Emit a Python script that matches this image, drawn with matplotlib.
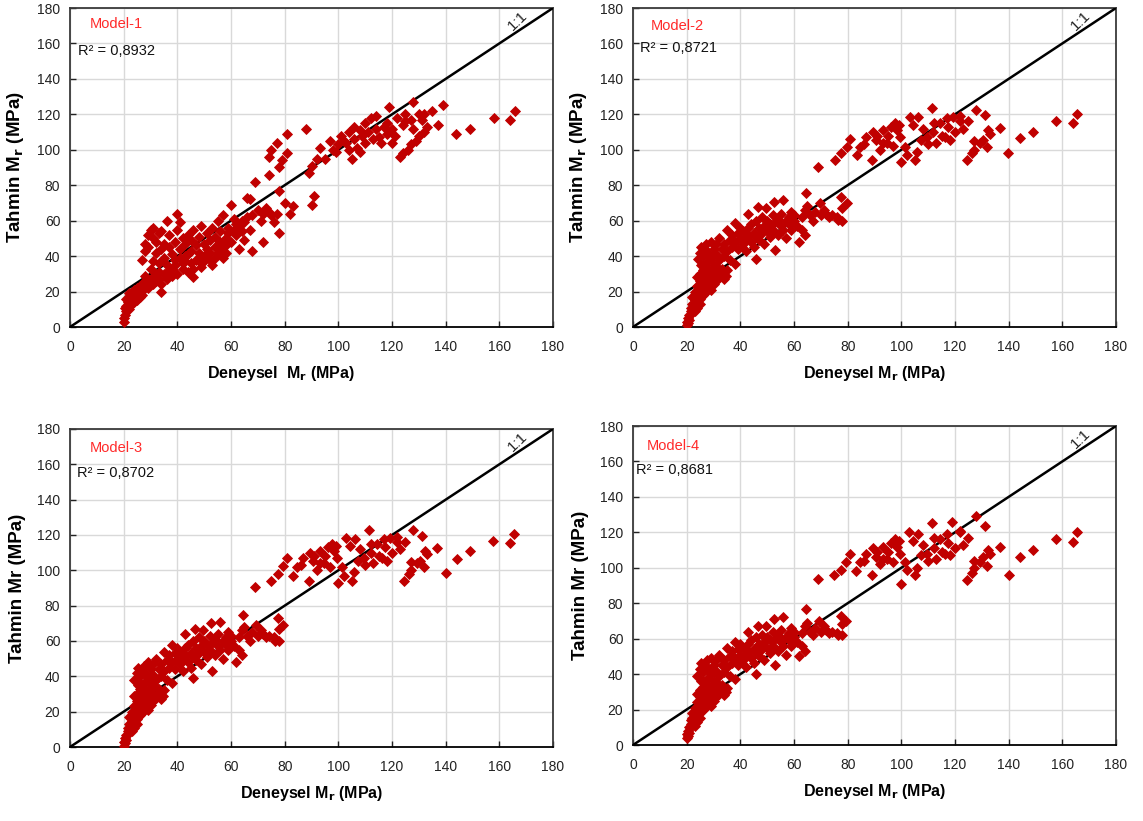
import matplotlib
matplotlib.use("Agg")
import matplotlib.pyplot as plt

plt.rcParams['font.family'] = ['Liberation Sans', 'DejaVu Sans']

# ---------------- data ----------------
models = ["Model-1", "Model-2", "Model-3", "Model-4"]
r2_texts = ["R² = 0,8932", "R² = 0,8721", "R² = 0,8702", "R² = 0,8681"]
ylabels = ["Tahmin M$_\\mathbf{r}$ (MPa)", "Tahmin M$_\\mathbf{r}$ (MPa)",
           "Tahmin Mr (MPa)", "Tahmin Mr (MPa)"]
xlabels = ["Deneysel  M$_\\mathbf{r}$ (MPa)", "Deneysel M$_\\mathbf{r}$ (MPa)",
           "Deneysel M$_\\mathbf{r}$ (MPa)", "Deneysel M$_\\mathbf{r}$ (MPa)"]
ticks = [0, 20, 40, 60, 80, 100, 120, 140, 160, 180]

pts1 = [
    (20,3),(20,5),(20.5,7),(21,9),(20.5,11),(21,12),(21.5,14),(22,10),(22,15),(22.5,17),
    (23,13),(23,18),(23.5,16),(24,19),(24,21),(25,18),(25,22),(26,20),(26,23),(27,21),
    (27,24),(28,22),(28,26),(29,25),(30,27),(24,14),(22,19),(21,16),(26,17),(29,22),
    (31,28),(30,24),(27,18),(28,29),(32,30),(33,27),(31,24),(23,20),(25,15),
    (27,38),(28,43),(28,47),(29,52),(29,45),(30,55),(31,56),(31,50),(32,48),(32,42),
    (33,36),(33,53),(34,54),(34,44),(35,39),(35,47),(36,60),(36,35),(37,45),(37,52),
    (38,41),(38,33),(39,48),(39,38),(40,64),(40,55),(41,59),(41,44),(42,36),(42,50),
    (43,47),(43,40),(44,52),(44,31),(45,43),(45,49),(46,28),(46,55),(47,38),(47,46),
    (48,42),(48,51),(49,34),(49,57),(50,47),(50,40),(51,44),(51,53),(52,49),(52,38),
    (53,56),(53,35),(54,45),(54,51),(55,60),(55,42),(56,48),(56,54),(57,39),(57,63),
    (58,50),(58,46),(59,56),(59,53),(60,48),(60,69),(61,55),(61,61),(62,52),(62,58),
    (63,57),(63,44),(64,60),(64,54),(65,59),(65,49),(66,73),(66,62),(67,72),(67,55),
    (68,43),(68,63),(69,82),(70,66),(71,60),(72,48),(72,64),(73,67),(74,65),(75,63),
    (76,59),(77,64),(78,53),(78,77),
    (30,33),(31,37),(32,26),(33,31),(34,20),(34,24),(35,30),(36,27),(37,32),(38,29),
    (39,35),(40,30),(41,39),(42,33),(43,37),(44,41),(45,36),(46,33),(48,37),(50,37),
    (52,42),(54,39),(56,44),(58,42),
    (74,86),(74,96),(75,100),(77,104),(78,90),(79,94),(81,98),(81,109),(80,70),(82,64),
    (83,68),(88,112),(89,87),(90,69),(90,91),(91,74),(92,95),(93,101),(95,95),(97,105),
    (98,100),(99,99),
    (100,103),(101,108),(102,105),(103,104),(104,110),(105,95),(106,113),(106,106),
    (107,101),(108,99),(109,108),(110,104),(110,115),(111,110),(112,118),(113,106),
    (114,119),(114,112),(115,107),(116,104),(117,113),(118,115),(119,124),(120,112),
    (121,108),(122,118),(123,96),(124,114),(125,116),(126,100),(127,117),(128,127),
    (128,112),(129,105),(130,120),(131,117),(132,110),(133,113),(135,122),(137,114),
    (139,125),(144,109),(149,112),(158,118),(164,117),(166,122),
    (124,98),(127,103),(130,108),(132,120),(125,120),(120,104),(118,109),(108,111),(104,100),
]

pts2 = [
    (20,1),(20,3),(20.5,5),(20.5,2),(21,7),(21,4),(21.5,9),(21.5,11),(22,13),(22,8),
    (22.5,10),(23,15),(23,12),(23.5,14),(24,17),(24,13),(24.5,19),(25,16),(25,20),(25.5,22),
    (26,18),(26,24),(26.5,21),(27,23),(27,19),(27.5,26),(28,22),(28,25),(29,21),(29,27),
    (30,24),(30,28),(31,26),(31,30),(32,28),(33,31),(34,27),(34.5,29),(35,32),(22,17),
    (23,20),(24,23),(25,26),(26,28),(27,30),(28,31),(23,9),(24,11),(25,13),
    (25,30),(26,32),(27,34),(28,33),(29,31),(30,33),(31,34),(32,33),(27,28),(29,30),
    (24,28),(26,35),
    (24.2,38.6),(24.9,42),(25.5,45),(25.5,35),(26,40),(27,44),(27.3,46.7),(28,37),(28,42),
    (29,48),(29,39),(30,44),(30,35),(31,41),(31,47),(32,50),(32,38),(33,44),(33,33),
    (34,47),(34,40),(35,54.7),(35,43),(36,49),(36,38),(37,52),(37,45),(38,58.8),(38,35.8),
    (38,48),(39,53),(39,44),(40,50),(40,56),(41,47),(41,54),(42,50),(42,43),(43,64),
    (43,56),(43,52),(44,48),(44,58),(45,53),(45,45),(46,60),(46,38.6),(46,51),(46.6,67.5),
    (47,56),(47,49),(48,62),(48,53),(49,57),(49,47),(49.7,67),(50,60),(50,54),(51,51),
    (51,58),(52,63),(52,55),(52.5,70.7),(53,43.3),(53,59),(54,52),(54,61),(55,57),(55,64),
    (56,71.6),(56,55),(57,60),(57,50),(58,62),(58,58),(59,65),(59,55),(60,60),(60,63),
    (61,57),(62,48),(62.8,54.7),(63,62),(64,51.8),(64,66),(64.6,75.8),(65,68),(66,63),
    (67,60),(68,65),(69.6,69.7),(70,63),(71,66),(72,64),(73,62),(74,63),(76.5,60.3),
    (77.7,73.5),(78,60),(79.6,69.7),(78,67),(76,62),
    (69,90.5),(75.2,94),(77.7,98),(79.6,101.8),(81,106),(83.3,97),(84.5,101.8),(87,107.4),
    (88.9,94.2),(89.5,110),(90.7,105.5),(92,100),(93.2,111),(94.5,103.7),(95,108),(96,113),
    (97.6,115),(98.2,111),(99.5,107.4),(100,93.3),(101.3,101.8),(102,97),(103.2,118.7),
    (104.4,114),(105,94.2),(105.7,99),(106.3,118.7),(107.5,105.5),(108,112),(109.4,107.4),
    (110,103),(111.3,123.4),(111.9,110),(113.1,103.7),(114.4,115),(115,108),(116.2,107.4),
    (117.5,113),(118,105.5),(119.3,118.7),(120,110),(121.8,116),(123,112),(124.3,94.2),
    (125,116),(126.2,98),(127,100),(128,122.5),(129.3,103.7),(130.5,105.5),(131.2,119.7),
    (131.8,101.8),(132.4,111),(133,109),(136.7,112.5),(139.9,98.4),(144.2,106.5),(149,110),
    (157.6,116.5),(163.8,115.3),(165.6,120),
    (91,108),(93,104),(86,103),(97,102),(99,114),(112,115),(117,118),(122,119),(127,105),
]

pts3 = [
    (20,0.5),(20,3),(20.5,5),(20.5,2),(21,7),(21,4),(21.5,9),(21.5,11),(22,13),(22,8),
    (22.5,10),(23,15),(23,12),(23.5,14),(24,17),(24,13),(24.5,19),(25,16),(25,20),(25.5,22),
    (26,18),(26,24),(26.5,21),(27,23),(27,19),(27.5,26),(28,22),(28,25),(29,21),(29,27),
    (30,24),(30,28),(31,26),(31,30),(32,28),(33,30),(34,27),(34.5,29),(35,32),(22,17),
    (23,20),(24,23),(25,26),(26,28),(27,30),(28,31),(23,9),(24,11),(25,13),
    (25,30),(26,33),(27,34),(28,33),(29,31),(30,33),(31,35),(32,34),(27,28),(29,30),
    (24,29),(26,36),
    (24,38),(25,42),(25.5,45),(25.5,35),(26,40),(27,44),(27.5,46),(28,37),(28,42),
    (29,48),(29,39),(30,44),(30,35),(31,41),(31,47),(32,50),(32,38),(33,44),(33,33),
    (34,47),(34,40),(35,54),(35,43),(36,49),(36,38),(37,52),(37,45),(38,58),(38,36),
    (38,48),(39,53),(39,44),(40,50),(40,56),(41,47),(41,54),(42,50),(42,43),(43,64),
    (43,56),(43,52),(44,48),(44,58),(45,53),(45,45),(46,60),(46,39),(46,51),(46.5,67),
    (47,56),(47,49),(48,62),(48,53),(49,57),(49,47),(49.5,66),(50,60),(50,54),(51,51),
    (51,58),(52,63),(52,55),(52.5,70),(53,43),(53,59),(54,52),(54,61),(55,57),(55,64),
    (56,71),(56,55),(57,60),(57,50),(58,62),(58,58),(59,65),(59,55),(60,60),(60,63),
    (61,57),(62,48),(63,55),(63,62),(64,52),(64,66),(64.5,75),(65,68),(66,63),
    (67,60),(68,65),(69.5,69),(70,63),(71,66),(72,64),(73,62),(74,63),(76.5,60),
    (77.5,73),(78,60),(79.5,69),(78,67),(76,62),
    (69,90.4),(75,94),(77.7,98),(79.3,102.6),(81,107),(83,97),(84.5,102),(87,107),
    (89,94),(89.5,110),(90.7,105.5),(92,100),(93,111),(94.5,104),(95,108),(96,113),
    (97.6,115),(98.2,111),(99.5,107),(100,93),(101.3,102),(102,97),(103,118.5),
    (104.4,114),(105,94),(105.7,99),(106.3,118),(107.5,105.5),(108,112),(109.4,107),
    (110,103),(111.3,123),(112,110),(113,104),(114.4,115),(115,108),(116.2,107),
    (117.5,113),(118,105.5),(119.3,118.5),(120,110),(121.8,116),(123,112),(124.3,94),
    (125,116),(126.2,98),(127,100),(128,123),(129.3,104),(130.5,105.5),(131.2,119.5),
    (131.8,102),(132.4,111),(133,109),(136.7,112.5),(140.2,98.5),(144.2,106.4),(149,110.7),
    (157.6,116.4),(163.8,115.5),(165.6,120.6),
    (91,108),(93,104),(86,103),(97,102),(99,114),(112,115),(117,118),(122,119),(127,105),
]

pts4 = [
    (20,4),(20,6),(20.5,8),(20.5,5),(21,10),(21,7),(21.5,12),(21.5,14),(22,15),(22,11),
    (22.5,13),(23,17),(23,14),(23.5,16),(24,19),(24,15),(24.5,21),(25,18),(25,22),(25.5,24),
    (26,20),(26,25),(26.5,23),(27,24),(27,21),(27.5,27),(28,23),(28,26),(29,22),(29,28),
    (30,25),(30,29),(31,27),(31,31),(32,29),(33,31),(34,28),(34.5,30),(35,32),(22,18),
    (23,21),(24,24),(25,27),(26,29),(27,31),(28,32),(23,11),(24,13),(25,15),
    (25,31),(26,33),(27,35),(28,34),(29,32),(30,34),(31,35),(32,34),(27,29),(29,31),
    (24,29),(26,36),
    (24,39),(25,43),(25.5,46),(25.5,36),(26,41),(27,45),(27.5,48),(28,38),(28,43),
    (29,49),(29,40),(30,45),(30,36),(31,42),(31,48),(32,51),(32,39),(33,45),(33,34),
    (34,48),(34,41),(35,55),(35,44),(36,50),(36,39),(37,53),(37,46),(38,58),(38,37),
    (38,49),(39,54),(39,45),(40,51),(40,57),(41,48),(41,55),(42,51),(42,44),(43,64),
    (43,57),(43,53),(44,49),(44,59),(45,54),(45,46),(46,61),(46,40),(46,52),(46.5,67),
    (47,57),(47,50),(48,62),(48,54),(49,58),(49,48),(49.5,67),(50,61),(50,55),(51,52),
    (51,59),(52,64),(52,56),(52.5,71),(53,45),(53,60),(54,53),(54,62),(55,58),(55,65),
    (56,72),(56,56),(57,61),(57,51),(58,63),(58,59),(59,66),(59,56),(60,61),(60,64),
    (61,58),(62,50),(63,56),(63,63),(64,53),(64,67),(64.5,77),(65,69),(66,64),
    (67,62),(68,66),(69.5,70),(70,64),(71,67),(72,65),(73,63),(74,64),(76.5,62),
    (77.5,73),(78,62),(79.5,70),(78,68),(76,63),
    (69,93.5),(75,96),(77.7,99),(79.3,103),(81,108),(83,98),(84.5,103),(87,108),
    (89,96),(89.5,111),(90.7,106),(92,102),(93,112),(94.5,105),(95,109),(96,114),
    (97.6,116),(98.2,112),(99.5,108),(100,91),(101.3,103),(102,99),(103,120),
    (104.4,115),(105,96),(105.7,100),(106.3,119),(107.5,107),(108,113),(109.4,108),
    (110,104),(111.3,125),(112,111),(113,105),(114.4,116),(115,109),(116.2,108),
    (117.5,114),(118,107),(118.7,126),(120,111),(121.8,121),(123,113),(124.3,93),
    (125,117),(126.2,97),(127,100),(128,129),(129.3,103),(130.5,106),(131.2,123.6),
    (131.8,101),(132.4,110),(133,108),(136.7,112),(140,96),(144.2,106),(149,110),
    (157.6,116),(163.8,114.5),(165.6,120),
    (91,109),(93,105),(86,104),(97,103),(99,115),(112,117),(117,119),(122,120),(127,104),
]

all_pts = [pts1, pts2, pts3, pts4]

# ---------------- layout ----------------
W, H = 1143, 821
fig = plt.figure(figsize=(W / 100, H / 100), dpi=100)
boxes = [  # left, right, top, bottom in pixels
    (70, 553, 8, 327),
    (633, 1116, 8, 327),
    (70, 553, 429, 747),
    (633, 1116, 426, 745),
]
model_pos = [(7.5, 171), (6.8, 169.6), (7.5, 169), (5.0, 168.5)]
r2_pos = [(3.0, 156), (2.5, 157.4), (2.5, 155), (1.0, 155)]
xlabel_x = [0.437, 0.5, 0.5, 0.5]

for i, (l, r, t, b) in enumerate(boxes):
    ax = fig.add_axes([l / W, 1 - b / H, (r - l) / W, (b - t) / H])
    xs = [p[0] for p in all_pts[i]]
    ys = [p[1] for p in all_pts[i]]
    ax.set_xlim(0, 180)
    ax.set_ylim(0, 180)
    ax.set_xticks(ticks)
    ax.set_yticks(ticks)
    ax.grid(True, color='#D9D9D9', linewidth=1.0)
    ax.set_axisbelow(True)
    ax.plot([0, 180], [0, 180], color='black', linewidth=1.8, zorder=3)
    ax.plot(xs, ys, linestyle='none', marker='D', markersize=4.8,
            color='#C00000', markeredgecolor='#C00000', markeredgewidth=0.6, zorder=4)
    for s in ax.spines.values():
        s.set_color('#3a3a3a')
        s.set_linewidth(1.3)
    ax.spines['bottom'].set_color('black')
    ax.tick_params(axis='both', direction='in', length=4, width=1.0,
                   labelsize=10, colors='#222222')
    ax.tick_params(axis='x', pad=9)
    ax.tick_params(axis='y', pad=7)
    ax.text(*model_pos[i], models[i], color='#FF2A2A', fontsize=10.5,
            ha='left', va='center')
    ax.text(*r2_pos[i], r2_texts[i], color='#111111', fontsize=10.5,
            ha='left', va='center')
    ax.text(167, 173, "1:1", fontsize=11, rotation=44, ha='center', va='center',
            color='#222222')
    ax.set_xlabel(xlabels[i], fontsize=11.5, fontweight='bold')
    ax.set_ylabel(ylabels[i], fontsize=13.5, fontweight='bold')
    ax.xaxis.set_label_coords(xlabel_x[i], -0.115)
    ax.yaxis.set_label_coords(-0.092, 0.5)

fig.savefig("out.png", dpi=100)
